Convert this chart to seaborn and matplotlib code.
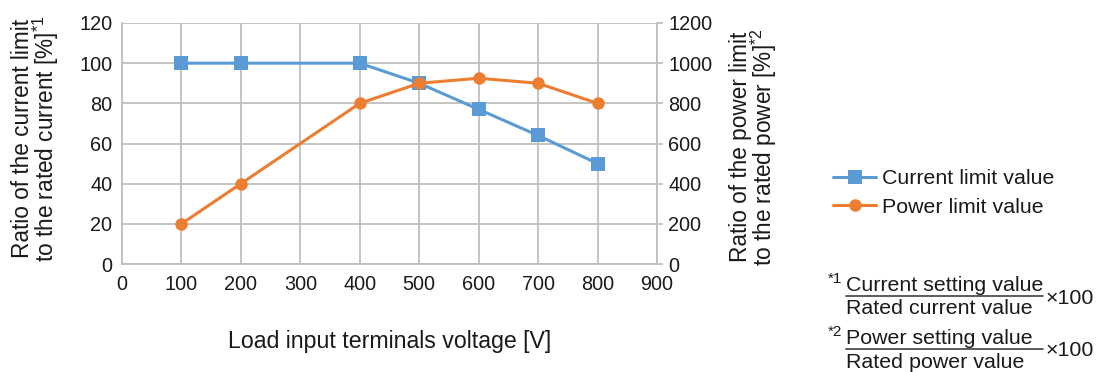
import matplotlib
matplotlib.use("Agg")
import matplotlib.pyplot as plt
from matplotlib.lines import Line2D
import seaborn as sns
import pandas as pd

# Load characteristics
voltage = [100, 200, 400, 500, 600, 700, 800]
current_limit = [100, 100, 100, 90, 77, 64, 50]      # % of rated current
power_limit = [200, 400, 800, 900, 925, 900, 800]    # % of rated power

x_ticks = [0, 100, 200, 300, 400, 500, 600, 700, 800, 900]
left_ticks = [0, 20, 40, 60, 80, 100, 120]
right_ticks = [0, 200, 400, 600, 800, 1000, 1200]

series_names = ["Current limit value", "Power limit value"]
x_label = "Load input terminals voltage [V]"
left_label = "Ratio of the current limit\nto the rated current [%]$^{\\mathregular{*1}}$"
right_label = "Ratio of the power limit\nto the rated power [%]$^{\\mathregular{*2}}$"

BLUE = "#5B9BD5"
ORANGE = "#ED7D31"
GRID = "#BFBFBF"
TEXT = "#1a1a1a"
FS_TICK = 14.3
FS_LABEL = 16.3
FS_TEXT = 15.4

sns.set_theme(style="white")
plt.rcParams["font.family"] = ["Liberation Sans", "DejaVu Sans"]
plt.rcParams["mathtext.fontset"] = "custom"
plt.rcParams["mathtext.rm"] = "Liberation Sans"
plt.rcParams["mathtext.it"] = "Liberation Sans"
plt.rcParams["text.color"] = TEXT

df = pd.DataFrame({"voltage": voltage,
                   "current": current_limit,
                   "power": power_limit})

W, H = 1098, 372
fig = plt.figure(figsize=(W / 100, H / 100), dpi=100)
ax = fig.add_axes([122 / W, 1 - 264 / H, (657 - 122) / W, (264 - 23) / H])
ax2 = ax.twinx()

sns.lineplot(data=df, x="voltage", y="current", ax=ax, color=BLUE,
             marker="s", markersize=10, markeredgewidth=0, linewidth=2.2,
             zorder=3)
sns.lineplot(data=df, x="voltage", y="power", ax=ax2, color=ORANGE,
             marker="o", markersize=9, markeredgewidth=0, linewidth=2.2,
             zorder=3)

ax.set_xlim(0, 900)
ax.set_ylim(0, 120)
ax2.set_ylim(0, 1200)
ax.set_xticks(x_ticks)
ax.set_yticks(left_ticks)
ax2.set_yticks(right_ticks)

ax.grid(True, color=GRID, linewidth=1.3)
ax.set_axisbelow(True)
for a in (ax, ax2):
    for s in a.spines.values():
        s.set_visible(False)
ax.spines["left"].set_visible(True)
ax.spines["bottom"].set_visible(True)
ax2.spines["right"].set_visible(True)
for s in (ax.spines["left"], ax.spines["bottom"], ax2.spines["right"]):
    s.set_color(GRID)
    s.set_linewidth(1.3)

ax.tick_params(axis="x", length=0, pad=8, labelsize=FS_TICK, labelcolor=TEXT)
ax.tick_params(axis="y", length=0, pad=7, labelsize=FS_TICK, labelcolor=TEXT)
ax2.tick_params(axis="y", length=4, width=1.3, color=GRID, pad=4,
                labelsize=FS_TICK, labelcolor=TEXT)

ax.set_xlabel(x_label, fontsize=16.7, labelpad=26, color=TEXT)
ax.set_ylabel("")
ax2.set_ylabel("")

fig.text(36 / W, 1 - 139 / H, left_label, rotation=90, ha="center",
         va="center", fontsize=FS_LABEL, multialignment="center",
         linespacing=0.85)
fig.text(754 / W, 1 - 147 / H, right_label, rotation=90, ha="center",
         va="center", fontsize=FS_LABEL, multialignment="center",
         linespacing=0.85)

handles = [
    Line2D([], [], color=BLUE, marker="s", markersize=10, markeredgewidth=0,
           linewidth=2.2),
    Line2D([], [], color=ORANGE, marker="o", markersize=9, markeredgewidth=0,
           linewidth=2.2),
]
fig.legend(handles, series_names, loc="center left",
           bbox_to_anchor=(814 / W, 1 - 193 / H), frameon=False,
           fontsize=FS_TEXT, handlelength=2.0, handletextpad=0.3,
           labelspacing=0.45)

# Footnote formulas: numerator over denominator, times 100
def footnote(mark, num, den, y_line):
    fig.text(828 / W, 1 - (y_line - 13) / H, mark, fontsize=11,
             ha="left", va="baseline")
    fig.text(846 / W, 1 - (y_line - 5) / H, num, fontsize=FS_TEXT,
             ha="left", va="baseline")
    fig.text(846 / W, 1 - (y_line + 18.5) / H, den, fontsize=FS_TEXT,
             ha="left", va="baseline")
    fig.add_artist(Line2D([846 / W, 1043 / W], [1 - y_line / H] * 2,
                          color="#404040", linewidth=1.2,
                          transform=fig.transFigure))
    fig.text(1046 / W, 1 - (y_line + 2) / H, "\u00d7100", fontsize=FS_TEXT,
             ha="left", va="center")

footnote("*1", "Current setting value", "Rated current value", 296)
footnote("*2", "Power setting value", "Rated power value", 349)

fig.savefig("out.png", dpi=100)
